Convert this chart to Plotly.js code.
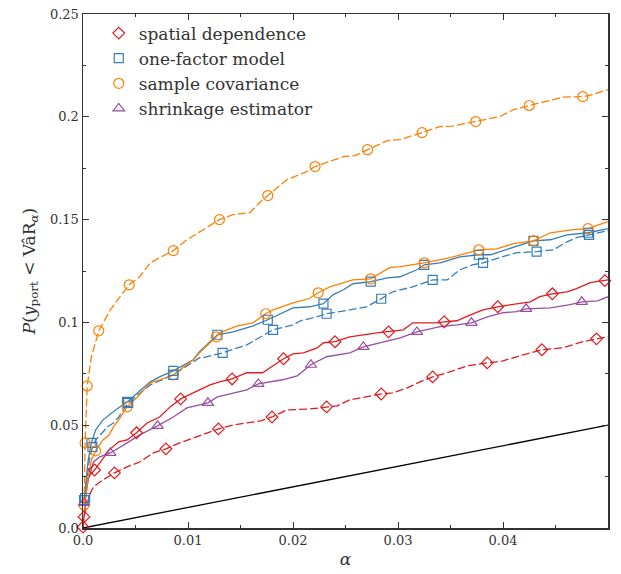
<!DOCTYPE html>
<html><head><meta charset="utf-8">
<script src="https://cdn.plot.ly/plotly-3.0.1.min.js"></script>
<style>body{margin:0;background:#fff}</style>
</head><body><div id="chart" style="width:621px;height:574px"></div>
<script>
// ---- data ----
const legendNames = ["spatial dependence", "one-factor model", "sample covariance", "shrinkage estimator"];

const spatialSolidX = [0.0000,0.0001,0.0002,0.0003,0.0005,0.0011,0.0025,0.0034,0.0042,0.0051,0.0061,0.0073,0.0083,0.0093,0.0105,0.0121,0.0130,0.0142,0.0156,0.0171,0.0181,0.0191,0.0200,0.0210,0.0223,0.0229,0.0240,0.0254,0.0280,0.0291,0.0305,0.0314,0.0337,0.0344,0.0356,0.0369,0.0381,0.0395,0.0410,0.0426,0.0435,0.0447,0.0461,0.0470,0.0483,0.0497,0.0500];
const spatialSolidY = [0.0005,0.0049,0.0102,0.0200,0.0248,0.0282,0.0380,0.0419,0.0428,0.0463,0.0511,0.0540,0.0589,0.0628,0.0657,0.0696,0.0711,0.0725,0.0755,0.0755,0.0789,0.0823,0.0847,0.0852,0.0876,0.0901,0.0906,0.0930,0.0949,0.0954,0.0964,0.0998,0.0998,0.1003,0.1008,0.1037,0.1061,0.1076,0.1086,0.1100,0.1125,0.1139,0.1149,0.1164,0.1193,0.1203,0.1207];
const spatialSolidMarkX = [0.0000,0.0011,0.0051,0.0093,0.0142,0.0191,0.0240,0.0291,0.0344,0.0395,0.0447,0.0497];

const spatialDashX = [0.0000,0.0001,0.0004,0.0007,0.0010,0.0019,0.0030,0.0042,0.0054,0.0067,0.0079,0.0092,0.0105,0.0118,0.0129,0.0143,0.0156,0.0169,0.0180,0.0194,0.0216,0.0232,0.0242,0.0254,0.0270,0.0284,0.0295,0.0309,0.0321,0.0333,0.0350,0.0366,0.0385,0.0400,0.0419,0.0437,0.0457,0.0476,0.0489,0.0500];
const spatialDashY = [0.0005,0.0054,0.0122,0.0170,0.0200,0.0234,0.0268,0.0297,0.0321,0.0365,0.0385,0.0414,0.0438,0.0463,0.0482,0.0501,0.0511,0.0521,0.0540,0.0574,0.0579,0.0589,0.0594,0.0623,0.0638,0.0652,0.0657,0.0682,0.0711,0.0735,0.0760,0.0789,0.0803,0.0813,0.0842,0.0867,0.0876,0.0906,0.0920,0.0930];
const spatialDashMarkX = [0.0001,0.0030,0.0079,0.0129,0.0180,0.0232,0.0284,0.0333,0.0385,0.0437,0.0489];

const factorSolidX = [0.0001,0.0003,0.0005,0.0008,0.0012,0.0019,0.0025,0.0031,0.0042,0.0064,0.0073,0.0086,0.0105,0.0111,0.0128,0.0143,0.0162,0.0176,0.0200,0.0216,0.0229,0.0238,0.0248,0.0257,0.0274,0.0290,0.0302,0.0318,0.0325,0.0340,0.0359,0.0377,0.0388,0.0397,0.0413,0.0429,0.0445,0.0461,0.0481,0.0486,0.0500];
const factorSolidY = [0.0136,0.0219,0.0331,0.0414,0.0477,0.0526,0.0550,0.0574,0.0613,0.0711,0.0735,0.0764,0.0818,0.0857,0.0940,0.0954,0.0983,0.1013,0.1071,0.1076,0.1091,0.1134,0.1159,0.1188,0.1198,0.1217,0.1222,0.1256,0.1280,0.1290,0.1319,0.1329,0.1329,0.1344,0.1368,0.1397,0.1402,0.1426,0.1436,0.1441,0.1456];
const factorSolidMarkX = [0.0001,0.0008,0.0042,0.0086,0.0128,0.0176,0.0229,0.0274,0.0325,0.0377,0.0429,0.0481];

const factorDashX = [0.0002,0.0004,0.0006,0.0009,0.0012,0.0019,0.0023,0.0029,0.0034,0.0043,0.0064,0.0086,0.0111,0.0114,0.0133,0.0156,0.0181,0.0200,0.0207,0.0216,0.0232,0.0254,0.0270,0.0284,0.0295,0.0314,0.0333,0.0347,0.0359,0.0371,0.0381,0.0397,0.0413,0.0432,0.0448,0.0461,0.0470,0.0482,0.0500];
const factorDashY = [0.0146,0.0230,0.0330,0.0394,0.0428,0.0467,0.0492,0.0511,0.0540,0.0609,0.0696,0.0745,0.0828,0.0828,0.0852,0.0891,0.0964,0.0988,0.1008,0.1018,0.1042,0.1061,0.1076,0.1115,0.1149,0.1173,0.1207,0.1207,0.1256,0.1280,0.1290,0.1315,0.1339,0.1344,0.1353,0.1392,0.1412,0.1426,0.1446];
const factorDashMarkX = [0.0002,0.0009,0.0043,0.0086,0.0133,0.0181,0.0232,0.0284,0.0333,0.0381,0.0432,0.0482];

const sampleSolidX = [0.0001,0.0002,0.0005,0.0008,0.0012,0.0019,0.0025,0.0029,0.0034,0.0042,0.0052,0.0064,0.0073,0.0086,0.0105,0.0111,0.0127,0.0130,0.0147,0.0162,0.0174,0.0181,0.0200,0.0215,0.0224,0.0235,0.0257,0.0274,0.0292,0.0302,0.0325,0.0350,0.0377,0.0394,0.0410,0.0429,0.0445,0.0467,0.0481,0.0486,0.0500];
const sampleSolidY = [0.0112,0.0136,0.0248,0.0331,0.0375,0.0428,0.0453,0.0492,0.0526,0.0589,0.0638,0.0706,0.0721,0.0745,0.0818,0.0852,0.0930,0.0949,0.0983,0.0998,0.1042,0.1061,0.1095,0.1115,0.1144,0.1173,0.1207,0.1212,0.1266,0.1271,0.1290,0.1315,0.1353,0.1358,0.1383,0.1397,0.1436,0.1451,0.1456,0.1466,0.1490];
const sampleSolidMarkX = [0.0001,0.0012,0.0042,0.0086,0.0127,0.0174,0.0224,0.0274,0.0325,0.0377,0.0429,0.0481];

const sampleDashX = [0.0001,0.0002,0.0004,0.0008,0.0015,0.0026,0.0033,0.0044,0.0054,0.0064,0.0073,0.0086,0.0099,0.0111,0.0118,0.0130,0.0143,0.0159,0.0169,0.0176,0.0194,0.0213,0.0221,0.0248,0.0259,0.0271,0.0290,0.0302,0.0323,0.0340,0.0352,0.0374,0.0397,0.0410,0.0425,0.0442,0.0457,0.0476,0.0483,0.0500];
const sampleDashY = [0.0110,0.0414,0.0691,0.0833,0.0959,0.1061,0.1110,0.1183,0.1222,0.1290,0.1315,0.1349,0.1402,0.1441,0.1461,0.1500,0.1524,0.1534,0.1587,0.1617,0.1694,0.1733,0.1758,0.1806,0.1811,0.1840,0.1884,0.1889,0.1923,0.1952,0.1955,0.1977,0.2001,0.2035,0.2055,0.2074,0.2096,0.2098,0.2105,0.2132];
const sampleDashMarkX = [0.0002,0.0004,0.0015,0.0044,0.0086,0.0130,0.0176,0.0221,0.0271,0.0323,0.0374,0.0425,0.0476];

const shrinkX = [0.0001,0.0002,0.0005,0.0010,0.0016,0.0026,0.0042,0.0054,0.0071,0.0086,0.0099,0.0111,0.0119,0.0128,0.0143,0.0156,0.0167,0.0181,0.0190,0.0204,0.0217,0.0232,0.0254,0.0267,0.0286,0.0302,0.0318,0.0340,0.0356,0.0370,0.0385,0.0400,0.0413,0.0422,0.0445,0.0464,0.0475,0.0490,0.0500];
const shrinkY = [0.0122,0.0136,0.0234,0.0321,0.0346,0.0365,0.0414,0.0453,0.0497,0.0540,0.0584,0.0599,0.0609,0.0638,0.0657,0.0672,0.0701,0.0711,0.0721,0.0740,0.0794,0.0833,0.0852,0.0881,0.0906,0.0925,0.0954,0.0979,0.0988,0.0998,0.1027,0.1047,0.1052,0.1066,0.1071,0.1086,0.1100,0.1105,0.1125];
const shrinkMarkX = [0.0001,0.0026,0.0071,0.0119,0.0167,0.0217,0.0267,0.0318,0.0370,0.0422,0.0475];

const refX = [0, 0.05];
const refY = [0, 0.05];

const xTickVals = [0, 0.01, 0.02, 0.03, 0.04, 0.05];
const xTickText = ["0.0", "0.01", "0.02", "0.03", "0.04", "0.05"];
const yTickVals = [0, 0.05, 0.1, 0.15, 0.2, 0.25];
const yTickText = ["0.0", "0.05", "0.1", "0.15", "0.2", "0.25"];

// ---- styling ----
const RED = "#e41a1c", BLUE = "#377eb8", ORANGE = "#ff7f00", PURPLE = "#984ea3";
const FONT = "DejaVu Serif";

function markPts(xs, ys, mx) {
  const px = [], py = [];
  mx.forEach(v => {
    let best = 0, bd = Infinity;
    xs.forEach((x, i) => { const d = Math.abs(x - v); if (d < bd) { bd = d; best = i; } });
    px.push(xs[best]); py.push(ys[best]);
  });
  return {x: px, y: py};
}

function lineTrace(x, y, color, dash) {
  return {x, y, type: "scatter", mode: "lines", showlegend: false, hoverinfo: "skip",
          line: {color, width: 1.3, dash: dash || "solid"}};
}
function markTrace(x, y, mx, color, symbol, size, name, show) {
  const p = markPts(x, y, mx);
  return {x: p.x, y: p.y, type: "scatter", mode: "markers", name: name, showlegend: show,
          cliponaxis: false,
          marker: {symbol, size, color: color, line: {color: color, width: 1.2}}};
}

const DASH = "8px,3px";
const data = [
  {x: refX, y: refY, type: "scatter", mode: "lines", showlegend: false, line: {color: "#000", width: 1.3}},
  lineTrace(spatialDashX, spatialDashY, RED, DASH),
  lineTrace(shrinkX, shrinkY, PURPLE),
  lineTrace(spatialSolidX, spatialSolidY, RED),
  lineTrace(factorDashX, factorDashY, BLUE, DASH),
  lineTrace(factorSolidX, factorSolidY, BLUE),
  lineTrace(sampleSolidX, sampleSolidY, ORANGE),
  lineTrace(sampleDashX, sampleDashY, ORANGE, DASH),
  markTrace(spatialSolidX, spatialSolidY, spatialSolidMarkX, RED, "diamond-open", 9, legendNames[0], true),
  markTrace(factorSolidX, factorSolidY, factorSolidMarkX, BLUE, "square-open", 9, legendNames[1], true),
  markTrace(sampleSolidX, sampleSolidY, sampleSolidMarkX, ORANGE, "circle-open", 10, legendNames[2], true),
  markTrace(shrinkX, shrinkY, shrinkMarkX, PURPLE, "triangle-up-open", 10, legendNames[3], true),
  markTrace(spatialDashX, spatialDashY, spatialDashMarkX, RED, "diamond-open", 9, legendNames[0], false),
  markTrace(factorDashX, factorDashY, factorDashMarkX, BLUE, "square-open", 9, legendNames[1], false),
  markTrace(sampleDashX, sampleDashY, sampleDashMarkX, ORANGE, "circle-open", 10, legendNames[2], false)
];

const axisCommon = {
  showgrid: false, zeroline: false, showline: true, linecolor: "#333", linewidth: 1.5,
  mirror: "allticks", ticks: "inside", ticklen: 6, tickwidth: 1, tickcolor: "#333",
  tickfont: {family: FONT, size: 13, color: "#333"}, automargin: false
};

const layout = {
  width: 621, height: 574,
  margin: {l: 83, r: 13, t: 14, b: 46},
  paper_bgcolor: "#fff", plot_bgcolor: "#fff",
  font: {family: FONT, color: "#333"},
  xaxis: Object.assign({}, axisCommon, {
    range: [0, 0.05000001], tickmode: "array", tickvals: xTickVals, ticktext: xTickText,
    minor: {tickvals: [0.005, 0.015, 0.025, 0.035, 0.045], ticks: "inside", ticklen: 3, tickcolor: "#333", showgrid: false},
    title: {text: "<i>α</i>", font: {family: FONT, size: 17, color: "#333"}, standoff: 6}
  }),
  yaxis: Object.assign({}, axisCommon, {
    range: [0, 0.25000001], tickmode: "array", tickvals: yTickVals, ticktext: yTickText,
    minor: {tickvals: [0.025, 0.075, 0.125, 0.175, 0.225], ticks: "inside", ticklen: 3, tickcolor: "#333", showgrid: false},
    title: {text: "<i>P</i>(<i>y</i><sub>port</sub> < Va\u0302R<sub><i>α</i></sub>)",
            font: {family: FONT, size: 17, color: "#333"}, standoff: 10}
  }),
  legend: {x: 0.03, y: 0.997, xanchor: "left", yanchor: "top", bgcolor: "rgba(0,0,0,0)",
           font: {family: FONT, size: 17, color: "#333"}, tracegroupgap: 0, itemwidth: 30},
  showlegend: true
};

Plotly.newPlot("chart", data, layout, {displayModeBar: false, staticPlot: true});
</script>
</body></html>
